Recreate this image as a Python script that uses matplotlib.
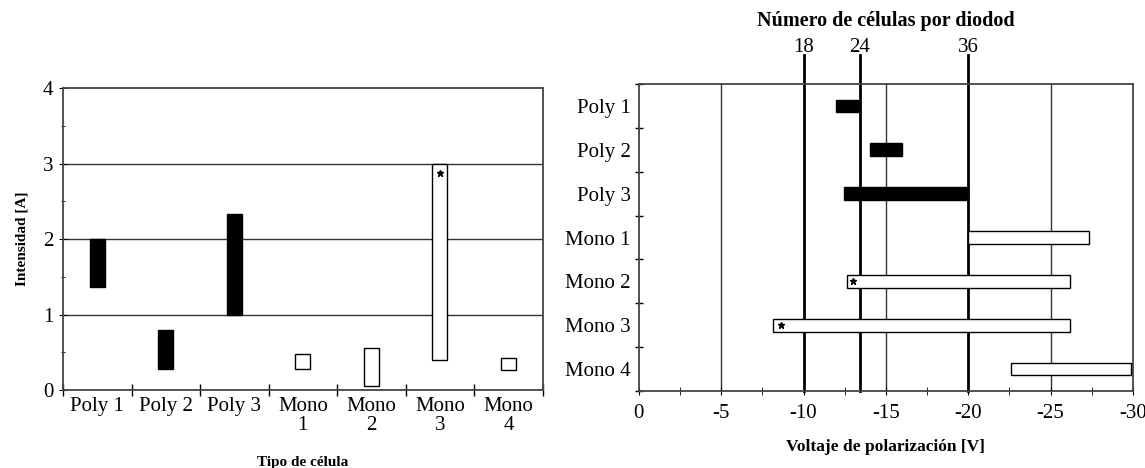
import numpy as np
import matplotlib
matplotlib.use('Agg')
import matplotlib.pyplot as plt

plt.rcParams['font.family'] = ['Liberation Serif', 'DejaVu Serif']

# left chart: current range per cell type
cells = ['Poly 1', 'Poly 2', 'Poly 3', 'Mono\n1', 'Mono\n2', 'Mono\n3', 'Mono\n4']
i_low = [1.37, 0.28, 1.0, 0.28, 0.05, 0.40, 0.27]
i_high = [2.0, 0.80, 2.33, 0.48, 0.56, 3.0, 0.42]
i_filled = [True, True, True, False, False, False, False]
i_star = 2.88  # star on Mono 3

# right chart: breakdown voltage range per cell type
rows = ['Poly 1', 'Poly 2', 'Poly 3', 'Mono 1', 'Mono 2', 'Mono 3', 'Mono 4']
v_start = [-12.0, -14.03, -12.47, -20.0, -12.62, -8.15, -22.6]
v_end = [-13.4, -16.0, -20.0, -27.33, -26.19, -26.19, -29.9]
v_star = {4: -13.0, 5: -8.6}

# cells per bypass diode and their voltage
diode_cells = ['18', '24', '36']
diode_volt = [-10.0, -13.4, -20.0]

fig = plt.figure(figsize=(11.45, 4.68), dpi=100)

# ---------- left
ax = fig.add_axes([0.055, 0.1667, 0.419, 0.645])
x = np.arange(len(cells))
for k in range(len(cells)):
    fc = 'black' if i_filled[k] else 'white'
    ax.bar(x[k], i_high[k] - i_low[k], bottom=i_low[k], width=0.22,
           facecolor=fc, edgecolor='black', linewidth=1.0, zorder=3)
ax.plot(x[5], i_star, marker='*', color='black', markersize=5, zorder=4)
for yv in [1, 2, 3]:
    ax.axhline(yv, color='#333333', linewidth=1.0, zorder=1)
ax.set_xlim(-0.5, len(cells) - 0.5)
ax.set_ylim(0, 4)
ax.set_xticks(np.arange(-0.5, len(cells), 1.0))
ax.set_xticklabels([])
ax.set_xticks(x, minor=True)
ax.set_xticklabels(cells, minor=True, fontsize=15, linespacing=1.0)
ax.tick_params(axis='x', which='minor', length=0, pad=5)
ax.tick_params(axis='x', which='major', direction='inout', length=9, width=1)
ax.set_yticks([0, 1, 2, 3, 4])
ax.set_yticks(np.arange(0.5, 4, 1.0), minor=True)
ax.tick_params(axis='y', which='major', direction='inout', length=6, labelsize=15, pad=4)
ax.tick_params(axis='y', which='minor', direction='inout', length=3)
ax.set_ylabel('Intensidad [A]', fontsize=11, fontweight='bold', labelpad=10)
ax.set_xlabel('Tipo de célula', fontsize=11, fontweight='bold', labelpad=15)
for s in ax.spines.values():
    s.set_color('#444444')
    s.set_linewidth(1.3)

# ---------- right
ax2 = fig.add_axes([0.558, 0.1645, 0.4314, 0.656])
y = np.arange(len(rows))
for k in range(len(rows)):
    fc = 'black' if k < 3 else 'white'
    ax2.barh(y[k], v_end[k] - v_start[k], left=v_start[k], height=0.29,
             facecolor=fc, edgecolor='black', linewidth=1.0, zorder=3)
for k, vx in v_star.items():
    ax2.plot(vx, y[k], marker='*', color='black', markersize=5, zorder=4)
for xv in [-5, -15, -25]:
    ax2.axvline(xv, color='#333333', linewidth=1.0, zorder=1)
for xv in diode_volt:
    ax2.plot([xv, xv], [len(rows) - 0.5, -0.5 - 0.66], color='black',
             linewidth=2.0, clip_on=False, zorder=2)
ax2.set_xlim(0, -30)
ax2.set_ylim(len(rows) - 0.5, -0.5)
ax2.set_xticks(np.arange(0, -31, -5))
ax2.set_xticklabels([str(v) for v in range(0, -31, -5)])
ax2.set_xticks(np.arange(-2.5, -30, -5), minor=True)
ax2.tick_params(axis='x', which='both', direction='inout', length=6, labelsize=15, pad=6)
ax2.set_yticks(np.arange(-0.5, len(rows), 1.0))
ax2.set_yticklabels([])
ax2.set_yticks(y, minor=True)
ax2.set_yticklabels(rows, minor=True, fontsize=15)
ax2.tick_params(axis='y', which='minor', length=0, pad=6)
ax2.tick_params(axis='y', which='major', direction='inout', length=6, width=1)
ax2.set_xlabel('Voltaje de polarización [V]', fontsize=12.5, fontweight='bold', labelpad=12)
for s in ax2.spines.values():
    s.set_color('#444444')
    s.set_linewidth(1.3)

# top labels for cell counts
for lab, xv in zip(diode_cells, diode_volt):
    ax2.text(xv, -0.5 - 0.62, lab, ha='center', va='bottom', fontsize=15)
ax2.text(-15, -0.5 - 1.2, 'Número de células por diodod', ha='center', va='bottom',
         fontsize=14.5, fontweight='bold')

fig.savefig('out.png', dpi=100, facecolor='white')
